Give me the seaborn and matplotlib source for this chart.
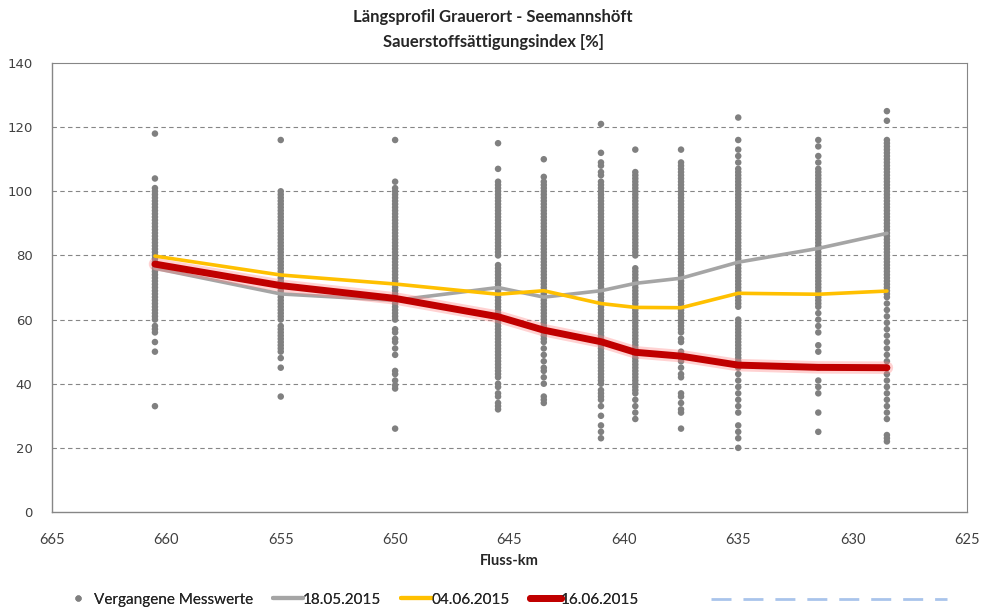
import matplotlib
matplotlib.use("Agg")
import matplotlib.pyplot as plt
from matplotlib.lines import Line2D
import seaborn as sns
import pandas as pd

# ---------------- data ----------------
stations = [660.5, 655, 650, 645.5, 643.5, 641, 639.5, 637.5, 635, 631.5, 628.5]

line_18_05 = [76, 68, 66, 70, 67, 69, 71.3, 72.9, 77.9, 82.2, 86.9]
line_04_06 = [79.8, 73.9, 71.1, 67.9, 69, 65, 63.8, 63.7, 68.2, 67.9, 68.9]
line_16_06 = [77.3, 70.6, 66.6, 60.9, 56.7, 53.1, 49.8, 48.6, 45.8, 45.1, 45.0]

past_660_5 = [118, 104, 101, 100, 99, 98, 97, 96, 95, 94, 93, 92, 91, 90, 89, 88, 87, 86, 85, 84, 83, 82,
              81, 80, 79, 78, 77, 76, 75, 74, 73, 72, 71, 70, 69, 68, 67, 66, 65, 64, 63, 62, 61, 60,
              58, 57, 56, 53, 50, 33]
past_655 = [116, 100, 99, 98, 97, 96, 95, 94, 93, 92, 91, 90, 89, 88, 87, 86, 85, 84, 83, 82, 81, 80,
            79, 78, 77, 76, 75, 74, 73, 72, 71, 70, 69, 68, 67, 66, 65, 64, 63, 62, 61, 60,
            58, 57, 56, 55, 54, 53, 52, 51, 50, 48, 45, 36]
past_650 = [116, 103, 101, 100, 99, 98, 97, 96, 95, 94, 93, 92, 91, 90, 89, 88, 87, 86, 85, 84, 83, 82,
            81, 80, 79, 78, 77, 76, 75, 74, 73, 72, 71, 70, 69, 68, 67, 66, 65, 64, 63, 62, 61, 60,
            57, 56, 54, 53, 51, 49, 44, 43, 41, 39.5, 38.5, 26]
past_645_5 = [115, 107, 103, 102, 101, 100, 99, 98, 97, 96, 95, 94, 93, 92, 91, 90, 89, 88, 87, 86, 85,
              84, 83, 82, 81, 80, 77, 76, 75, 74, 73, 72, 71, 70, 69, 68, 67, 66, 65, 64, 63, 62, 61,
              60, 59, 58, 57, 56, 55, 54, 53, 52, 51, 50, 49, 48, 47, 46, 45, 44, 43, 42,
              40, 39, 37, 36, 34, 33, 32]
past_643_5 = [110, 104.5, 103, 102, 101, 100, 99, 98, 97, 96, 95, 94, 93, 92, 91, 90, 89, 88, 87, 86, 85,
              84, 83, 82, 81, 80, 79, 78, 77, 76, 75, 74, 73, 72, 71, 70, 69, 68, 67, 66, 65, 64, 63,
              62, 61, 60, 59, 58, 57, 56, 55, 54, 53,
              51, 49, 47, 45, 44, 42, 40, 36, 35, 34]
past_641 = [121, 112, 109, 108, 106, 105, 103, 102, 101, 100, 99, 98, 97, 96, 95, 94, 93, 92, 91, 90, 89,
            88, 87, 86, 85, 84, 83, 82, 81, 80, 79, 78, 77, 76, 75, 74, 73, 72, 71, 70, 69, 68, 67, 66,
            65, 64, 63, 62, 61, 60, 59, 58, 57, 56, 55, 54, 53, 52, 51, 50, 49, 48, 47, 46, 45, 44,
            43, 42, 41, 40, 38, 37, 36, 35, 33, 30, 27, 25, 23]
past_639_5 = [113, 106, 105, 104, 103, 102, 101, 100, 99, 98, 97, 96, 95, 94, 93, 92, 91, 90, 89, 88,
              87, 86, 85, 84, 83, 82, 81, 80, 76, 75, 74, 73, 72, 71, 70, 69, 68, 67, 66, 65, 64, 63,
              62, 61, 60, 59, 58, 57, 56, 55, 54, 53, 52, 51, 50, 49, 48, 47, 46, 45, 44, 43, 42,
              41, 40, 39, 38, 37, 35, 33, 31, 29]
past_637_5 = [113, 109, 108, 107, 106, 105, 104, 103, 102, 101, 100, 99, 98, 97, 96, 95, 94, 93, 92, 91,
              90, 89, 88, 87, 86, 85, 84, 83, 82, 81, 80, 79, 78, 77, 76, 75, 74, 73, 72, 71, 70, 69,
              68, 67, 66, 65, 64, 63, 62, 61, 60, 59, 58, 57, 56,
              54, 53, 50, 49, 48, 47, 45, 43, 42, 37, 36, 34, 32, 31, 26]
past_635 = [123, 116, 113, 111, 109, 107, 106, 105, 104, 103, 102, 101, 100, 99, 98, 97, 96, 95, 94, 93,
            92, 91, 90, 89, 88, 87, 86, 85, 84, 83, 82, 81, 80, 79, 78, 77, 76, 75, 74, 73, 72, 71,
            70, 69, 68, 67, 66, 65, 64, 60, 59, 58, 57, 56, 55, 54, 53, 52, 51, 50, 49, 48, 47, 46,
            45, 43, 41, 39, 37, 35, 33, 31, 27, 25, 23, 20]
past_631_5 = [116, 114, 111, 109, 107, 106, 105, 104, 103, 102, 101, 100, 99, 98, 97, 96, 95, 94, 93, 92,
              91, 90, 89, 88, 87, 86, 85, 84, 83, 82, 81, 80, 79, 78, 77, 76, 75, 74, 73, 72, 71, 70,
              69, 68, 67, 66, 65, 64, 62, 60, 58, 56, 52, 50, 45, 41, 39, 37, 31, 25]
past_628_5 = [125, 122, 116, 115, 114, 113, 112, 111, 110, 109, 108, 107, 106, 105, 104, 103, 102, 101,
              100, 99, 98, 97, 96, 95, 94, 93, 92, 91, 90, 89, 88, 87, 86, 85, 84, 83, 82, 81, 80, 79,
              78, 77, 76, 75, 74, 73, 72, 71, 70, 69, 68, 67, 65, 63, 61, 59, 57, 55, 53, 51, 49, 47,
              45, 43, 41, 39, 37, 35, 33, 31, 29, 24, 23, 22]

past_values = [past_660_5, past_655, past_650, past_645_5, past_643_5, past_641,
               past_639_5, past_637_5, past_635, past_631_5, past_628_5]

title_lines = ["Längsprofil Grauerort - Seemannshöft", "Sauerstoffsättigungsindex [%]"]
x_ticks = [665, 660, 655, 650, 645, 640, 635, 630, 625]
y_ticks = [0, 20, 40, 60, 80, 100, 120, 140]

# ---------------- tables ----------------
past_df = pd.DataFrame({
    "km": [s for s, vals in zip(stations, past_values) for _ in vals],
    "wert": [v for vals in past_values for v in vals],
})
lines_df = pd.DataFrame({"km": stations, "d1": line_18_05, "d2": line_04_06, "d3": line_16_06})

# ---------------- figure ----------------
sns.set_style("white")
plt.rcParams["font.family"] = ["Lato", "DejaVu Sans"]

fig = plt.figure(figsize=(9.87, 6.12), dpi=100)
ax = fig.add_axes([0.0527, 0.1634, 0.9270, 0.7336])

sns.scatterplot(data=past_df, x="km", y="wert", ax=ax, color="#808080", s=22,
                edgecolor="none", linewidth=0, zorder=2, legend=False)
sns.lineplot(data=lines_df, x="km", y="d1", ax=ax, color="#A5A5A5", lw=2.6, sort=False,
             zorder=3, legend=False)
sns.lineplot(data=lines_df, x="km", y="d2", ax=ax, color="#FFC000", lw=2.6, sort=False,
             zorder=4, legend=False)
sns.lineplot(data=lines_df, x="km", y="d3", ax=ax, color="#FF8080", lw=9, alpha=0.35,
             sort=False, zorder=5, legend=False)
sns.lineplot(data=lines_df, x="km", y="d3", ax=ax, color="#C00000", lw=5, sort=False,
             zorder=6, legend=False)

ax.set_xlim(665, 625)
ax.set_ylim(0, 140)
ax.set_xticks(x_ticks)
ax.set_xticklabels([str(t) for t in x_ticks], fontsize=10.5, color="#404040")
ax.set_yticks(y_ticks)
ax.set_yticklabels([str(t) for t in y_ticks], fontsize=9.5, color="#404040",
                   family="DejaVu Sans")
ax.tick_params(axis="x", direction="out", length=4, width=0.8, color="#868686", pad=11)
ax.tick_params(axis="y", length=0, pad=14)

for t in y_ticks[1:-1]:
    ax.axhline(t, color="#868686", lw=0.8, ls=(0, (4, 3)), zorder=1)

for side in ["left", "bottom"]:
    ax.spines[side].set_color("#868686")
    ax.spines[side].set_linewidth(1.0)
for side in ["top", "right"]:
    ax.spines[side].set_color("#868686")
    ax.spines[side].set_linewidth(0.8)

ax.set_xlabel("Fluss-km", fontsize=10.5, fontweight="bold", labelpad=5)
ax.set_ylabel("")

fig.text(0.4995, 0.972, title_lines[0], ha="center", va="center", fontsize=12, fontweight="bold")
fig.text(0.4995, 0.931, title_lines[1], ha="center", va="center", fontsize=12, fontweight="bold")

handles = [
    Line2D([], [], ls="none", marker="o", ms=3.5, color="#808080"),
    Line2D([], [], color="#A5A5A5", lw=3),
    Line2D([], [], color="#FFC000", lw=3),
    Line2D([], [], color="#C00000", lw=5),
]
labels = ["Vergangene Messwerte", "18.05.2015", "04.06.2015", "16.06.2015"]
leg = fig.legend(handles, labels, loc="center left", bbox_to_anchor=(0.05, 0.02), ncol=4,
                 frameon=False, fontsize=11, handlelength=2.0, handletextpad=0.0,
                 columnspacing=1.3)
fig.add_artist(leg)
leg2 = fig.legend([Line2D([], [], color="#A9C4EB", lw=2, ls=(0, (7.2, 4.3)))], [""],
                  loc="center left", bbox_to_anchor=(0.708, 0.02), frameon=False,
                  fontsize=10, handlelength=17, handletextpad=0.0)

fig.savefig("out.png", dpi=100)
